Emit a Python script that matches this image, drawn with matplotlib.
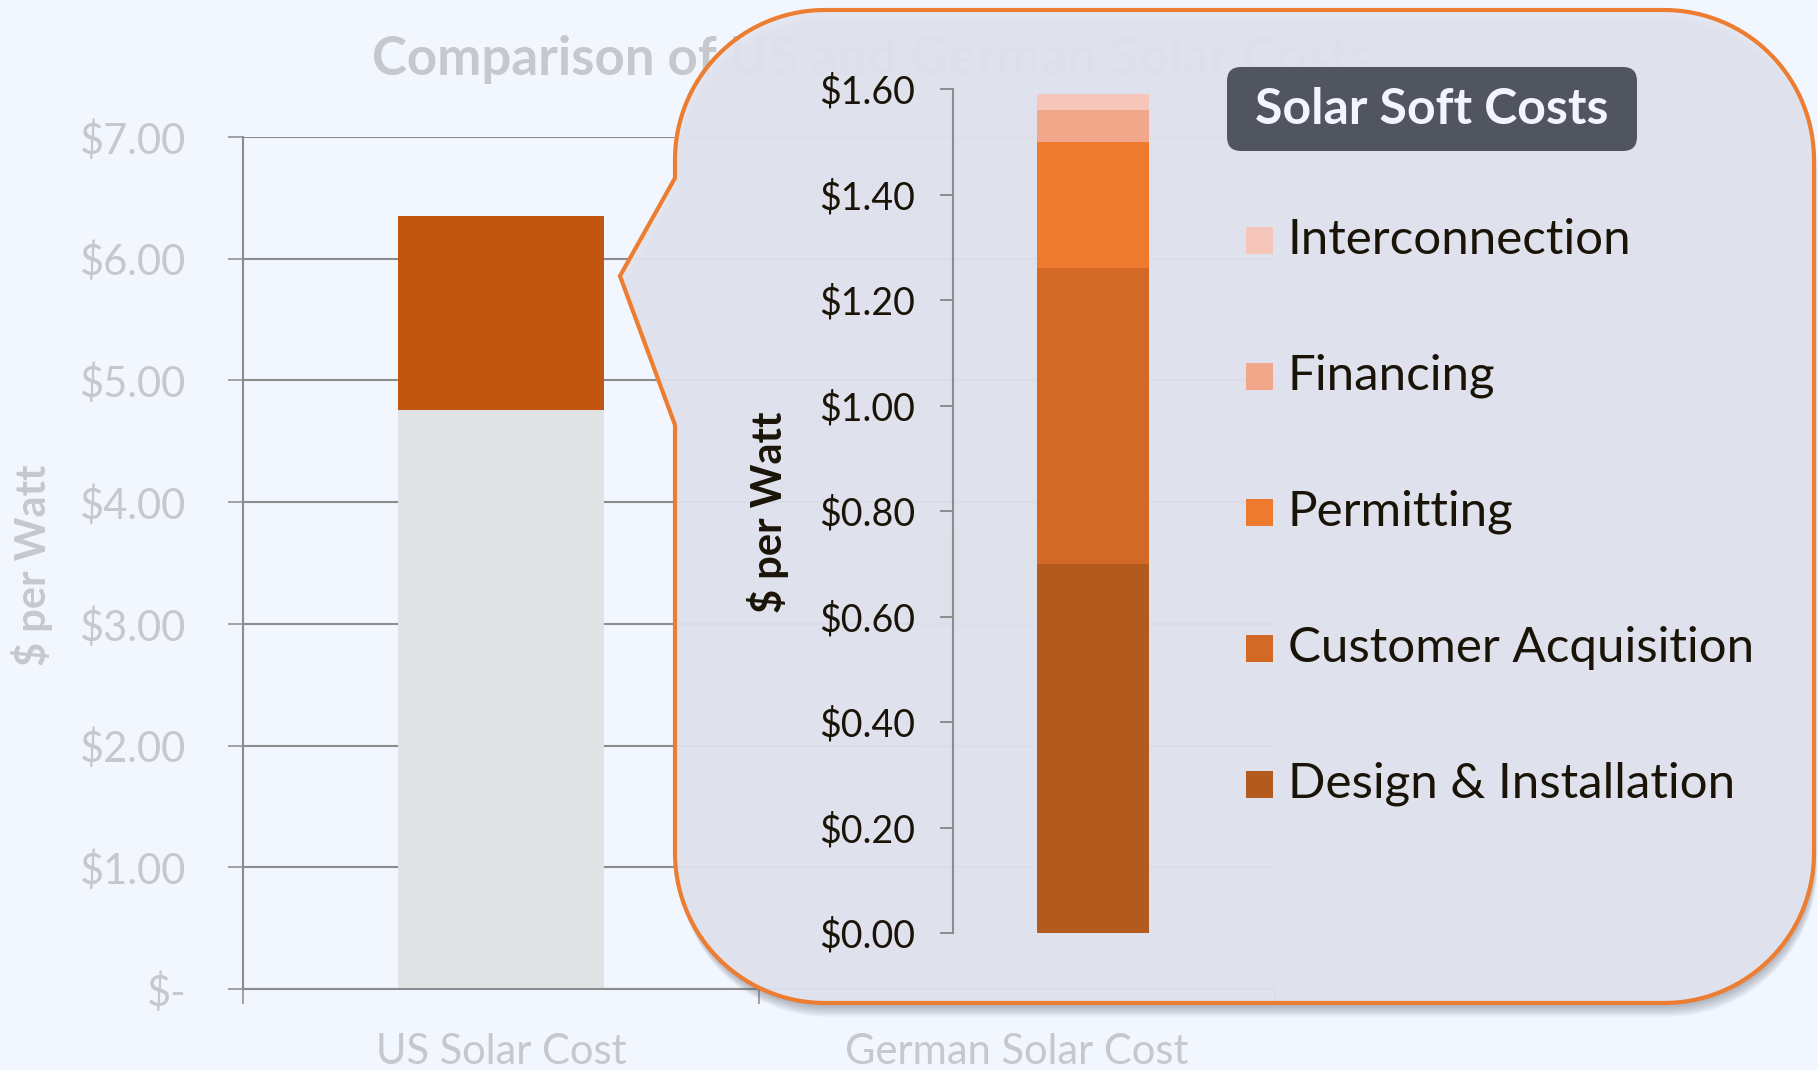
import numpy as np
import matplotlib
matplotlib.use('Agg')
import matplotlib.pyplot as plt
from matplotlib.path import Path
from matplotlib.patches import PathPatch, Rectangle, FancyBboxPatch
from matplotlib.transforms import IdentityTransform

# data
countries = ['US Solar Cost', 'German Solar Cost']
hardware_cost = [4.76, 3.02]
soft_cost = [1.59, 0.73]
bg_ticks = [0, 1, 2, 3, 4, 5, 6, 7]
bg_tick_labels = ['$-', '$1.00', '$2.00', '$3.00', '$4.00', '$5.00', '$6.00', '$7.00']

soft_labels = ['Design & Installation', 'Customer Acquisition', 'Permitting',
               'Financing', 'Interconnection']
soft_values = [0.70, 0.56, 0.24, 0.06, 0.03]
soft_colors = ['#b35a1e', '#d26a26', '#ed7a2e', '#f2a78b', '#f5c6b9']
inset_ticks = [0.0, 0.2, 0.4, 0.6, 0.8, 1.0, 1.2, 1.4, 1.6]

W, H = 1818, 1070
BG = '#f2f6fe'
LIGHT = '#c5c8cc'
GRID = '#8c8c8c'
DARK = '#1a1408'
FONT = ['Lato', 'DejaVu Sans']

plt.rcParams['font.family'] = FONT

fig = plt.figure(figsize=(W / 100, H / 100), dpi=100, facecolor=BG)


def rect(x0, y0, x1, y1):
    # pixel box (y from top) -> figure fraction
    return [x0 / W, 1 - y1 / H, (x1 - x0) / W, (y1 - y0) / H]


# ---- background chart ----
ax = fig.add_axes(rect(243, 137, 1275, 989), zorder=0)
ax.set_facecolor('none')
x = np.arange(len(countries))
bar_alpha = [1.0, 0.2]  # German bar sits behind the callout, barely visible
for i in x:
    ax.bar(i, hardware_cost[i], width=0.4, color='#e1e2e4', alpha=bar_alpha[i], zorder=2)
    ax.bar(i, soft_cost[i], width=0.4, bottom=hardware_cost[i], color='#c25611',
           alpha=bar_alpha[i], zorder=2)
ax.set_xlim(-0.5, 1.5)
ax.set_ylim(0, 7)
ax.set_yticks(bg_ticks)
ax.set_yticklabels(bg_tick_labels)
ax.yaxis.grid(True, color=GRID, lw=1.5, zorder=1)
ax.set_axisbelow(True)
for s in ['top', 'right']:
    ax.spines[s].set_visible(False)
for s in ['left', 'bottom']:
    ax.spines[s].set_color(GRID)
    ax.spines[s].set_linewidth(1.5)
ax.tick_params(axis='y', length=11, width=1.1, color=GRID, pad=30,
               labelsize=30, labelcolor=LIGHT)
ax.set_xticks(x)
ax.set_xticklabels(countries)
ax.set_xticks([-0.5, 0.5, 1.5], minor=True)
ax.tick_params(axis='x', which='major', length=0, pad=32, labelsize=30,
               labelcolor=LIGHT)
ax.tick_params(axis='x', which='minor', length=11, width=1.1, color=GRID)
fig.text(32 / W, 1 - 565 / H, '$ per Watt', rotation=90, ha='center',
         va='center', fontsize=30, fontweight='bold', color=LIGHT, zorder=0)
fig.text(872 / W, 1 - 60 / H, 'Comparison of US and German Solar Costs',
         ha='center', va='center', fontsize=38, fontweight='bold',
         color=LIGHT, zorder=0)


# ---- callout shape (pixel coords, y up) ----
def callout_verts(L, R, T, B, r, p_top, tip, p_bot):
    top, bot = H - T, H - B
    v = []

    def arc(cx, cy, a0, a1):
        a = np.radians(np.linspace(a0, a1, 40))
        v.extend(zip(cx + r * np.cos(a), cy + r * np.sin(a)))

    arc(R - r, top - r, 0, 90)
    arc(L + r, top - r, 90, 180)
    v.append((L, H - p_top))
    v.append((tip[0], H - tip[1]))
    v.append((L, H - p_bot))
    arc(L + r, bot + r, 180, 270)
    arc(R - r, bot + r, 270, 360)
    v.append(v[0])
    return np.array(v)


verts = callout_verts(675, 1814, 10, 1003, 150, 178, (620, 276), 425)

# soft drop shadow
for k in range(1, 9):
    sh = PathPatch(Path(verts + [k * 0.4, -k * 1.7]), facecolor='#5a6070',
                   edgecolor='none', alpha=0.07, transform=IdentityTransform(),
                   zorder=1)
    fig.patches.append(sh)

box = PathPatch(Path(verts), facecolor='#e4e7f1', edgecolor='none',
                alpha=0.92, transform=IdentityTransform(), zorder=1.5)
fig.patches.append(box)
edge = PathPatch(Path(verts), facecolor='none', edgecolor='#ed7d31',
                 lw=3, transform=IdentityTransform(), zorder=1.6)
fig.patches.append(edge)

# ---- inset: soft cost breakdown ----
ax2 = fig.add_axes(rect(953, 89, 1233, 933), zorder=2)
ax2.set_facecolor('none')
bottom = 0.0
for val, col in zip(soft_values, soft_colors):
    ax2.bar(0, val, width=0.807, bottom=bottom, color=col)
    bottom += val
ax2.set_xlim(-1, 1)
ax2.set_ylim(0, 1.6)
ax2.set_yticks(inset_ticks)
ax2.set_yticklabels(['${:.2f}'.format(t) for t in inset_ticks])
ax2.set_xticks([])
for s in ['top', 'right', 'bottom']:
    ax2.spines[s].set_visible(False)
ax2.spines['left'].set_color(GRID)
ax2.spines['left'].set_linewidth(1.5)
ax2.tick_params(axis='y', length=9.5, width=1.4, color=GRID, pad=18,
                labelsize=27, labelcolor=DARK)
fig.text(768 / W, 1 - 512 / H, '$ per Watt', rotation=90, ha='center',
         va='center', fontsize=30, fontweight='bold', color=DARK, zorder=3)

# legend title box
tb = FancyBboxPatch((1227, H - 151), 410, 84,
                    boxstyle='round,pad=0,rounding_size=14',
                    facecolor='#51555f', edgecolor='none',
                    transform=IdentityTransform(), zorder=3)
fig.patches.append(tb)
fig.text(1432 / W, 1 - 110 / H, 'Solar Soft Costs', ha='center', va='center',
         fontsize=36, fontweight='bold', color='#f2f5fd', zorder=4)

# legend entries, top to bottom reversed from stack order
for i, (lab, col) in enumerate(zip(soft_labels[::-1], soft_colors[::-1])):
    yc = 240 + i * 136
    sq = Rectangle((1246, H - yc - 13.5), 27, 27, facecolor=col,
                   edgecolor='none', transform=IdentityTransform(), zorder=3)
    fig.patches.append(sq)
    fig.text(1288 / W, 1 - yc / H, lab, ha='left', va='center',
             fontsize=35.5, color=DARK, zorder=4)

fig.savefig('out.png', dpi=100, facecolor=BG)
